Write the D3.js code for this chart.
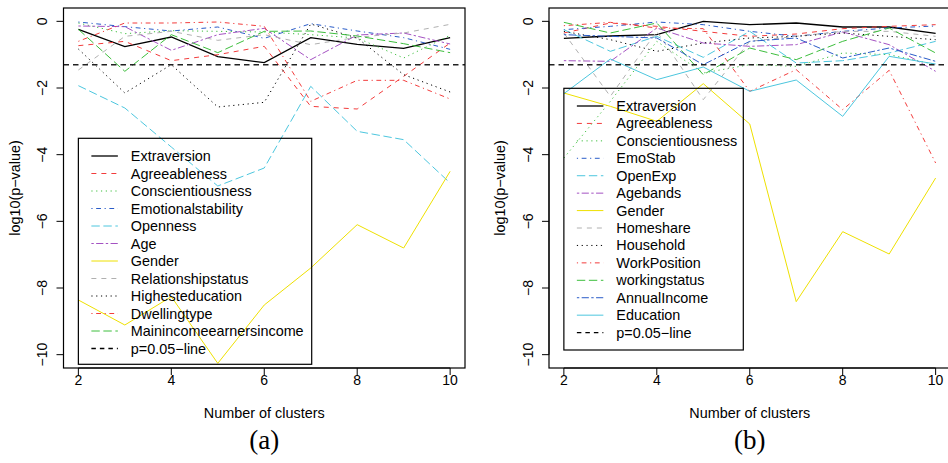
<!DOCTYPE html>
<html>
<head>
<meta charset="utf-8">
<script src="https://cdn.jsdelivr.net/npm/d3@7"></script>
<style>
  body { margin: 0; background: #fff; }
  svg text { font-family: "Liberation Sans", Arial, sans-serif; }
</style>
</head>
<body>
<div class="chart"></div>
<script>
// x values (number of clusters) and axis ticks
var clusters = [2, 3, 4, 5, 6, 7, 8, 9, 10];
var xTicks = [2, 4, 6, 8, 10];
var yTicks = [0, -2, -4, -6, -8, -10];
var pLine = Math.log10(0.05);

// panel (a) series, log10(p-value)
var aNames = ["Extraversion", "Agreeableness", "Conscientiousness", "Emotionalstability", "Openness", "Age",
              "Gender", "Relationshipstatus", "Highesteducation", "Dwellingtype", "Mainincomeearnersincome"];
var aExtraversion       = [-0.24, -0.76, -0.47, -1.06, -1.24, -0.49, -0.69, -0.81, -0.49];
var aAgreeableness      = [-0.73, -0.60, -1.18, -1.00, -0.75, -2.55, -2.63, -1.65, -0.65];
var aConscientiousness  = [-0.05, -0.37, -0.28, -0.30, -0.32, -0.40, -0.50, -1.10, -0.42];
var aEmotionalstability = [-0.02, -0.16, -0.29, -0.17, -0.51, -0.07, -0.29, -0.49, -0.84];
var aOpenness           = [-1.93, -2.60, -3.77, -4.94, -4.40, -1.95, -3.30, -3.55, -4.85];
var aAge                = [-0.14, -0.16, -0.87, -0.40, -0.21, -1.15, -0.41, -0.35, -0.68];
var aGender             = [-8.36, -9.11, -8.26, -10.26, -8.51, -7.40, -6.10, -6.80, -4.50];
var aRelationship       = [-1.46, -0.45, -0.30, -0.57, -0.40, -0.70, -0.48, -0.35, -0.09];
var aHighesteducation   = [-0.83, -2.15, -1.30, -2.57, -2.43, -0.08, -0.50, -1.60, -2.12];
var aDwellingtype       = [-0.60, -0.05, -0.05, -0.02, -0.15, -2.40, -1.77, -1.77, -2.33];
var aMainincome         = [-0.24, -1.50, -0.40, -0.94, -0.30, -0.29, -0.44, -0.67, -0.94];

// panel (b) series
var bNames = ["Extraversion", "Agreeableness", "Conscientiousness", "EmoStab", "OpenExp", "Agebands",
              "Gender", "Homeshare", "Household", "WorkPosition", "workingstatus", "AnnualIncome", "Education"];
var bExtraversion      = [-0.51, -0.44, -0.40, 0.00, -0.10, -0.05, -0.17, -0.17, -0.36];
var bAgreeableness     = [-0.35, -0.05, -0.15, -0.30, -0.45, -0.38, -0.22, -0.15, -0.10];
var bConscientiousness = [-4.10, -2.40, -0.60, -1.55, -1.30, -1.35, -0.95, -1.00, -1.30];
var bEmoStab           = [-0.25, -0.15, -0.02, -0.10, -0.30, -0.45, -0.30, -0.20, -0.14];
var bOpenExp           = [-0.25, -0.90, -0.45, -1.08, -0.30, -1.25, -1.18, -0.95, -0.60];
var bAgebands          = [-1.18, -1.20, -0.20, -0.65, -0.75, -0.70, -0.32, -0.70, -1.50];
var bGender            = [-2.15, -2.55, -3.00, -1.87, -3.08, -8.41, -6.31, -6.98, -4.70];
var bHomeshare         = [-0.35, -2.25, -0.30, -2.35, -0.60, -0.45, -0.30, -0.30, -0.45];
var bHousehold         = [-0.30, -0.55, -0.90, -0.65, -0.50, -0.45, -0.35, -0.45, -0.55];
var bWorkPosition      = [-0.13, -0.03, -0.20, -0.22, -2.10, -1.45, -2.65, -1.47, -4.25];
var bWorkingstatus     = [-0.03, -0.35, -0.05, -1.60, -0.80, -1.15, -0.60, -0.20, -0.95];
var bAnnualIncome      = [-0.40, -0.45, -0.50, -1.30, -0.60, -0.50, -1.10, -0.80, -1.20];
var bEducation         = [-2.17, -1.13, -1.75, -1.37, -2.10, -1.76, -2.85, -1.05, -1.28];

var aValues = [aExtraversion, aAgreeableness, aConscientiousness, aEmotionalstability, aOpenness, aAge,
               aGender, aRelationship, aHighesteducation, aDwellingtype, aMainincome];
var bValues = [bExtraversion, bAgreeableness, bConscientiousness, bEmoStab, bOpenExp, bAgebands,
               bGender, bHomeshare, bHousehold, bWorkPosition, bWorkingstatus, bAnnualIncome, bEducation];

// R style palette and line types (cycled like matplot)
var palette = ["#000000", "#F23C3C", "#3DBE3D", "#2A5CC8", "#4CC6DE", "#A452C2", "#EEE000", "#B0B0B0"];
var ltys = [null, "5,5", "1.2,3.6", "1.2,3.6,4.8,3.6", "8.4,3.6", "2.4,2.4,7.2,2.4"];

var W = 948, H = 463;
var svg = d3.select("div.chart").append("svg")
            .attr("width", W)
            .attr("height", H);

function drawPanel(offset, names, values, tag, legendTop, legendBottom, legendRight, legendStep) {
  var x = d3.scaleLinear().domain([1.68, 10.32]).range([63.5 + offset, 465 + offset]);
  var y = d3.scaleLinear().domain([-10.4, 0.4]).range([368, 8]);
  var fmt = d3.format("d");

  var clipId = "clip" + tag;
  svg.append("clipPath").attr("id", clipId)
     .append("rect")
       .attr("x", x.range()[0]).attr("y", 8)
       .attr("width", x.range()[1] - x.range()[0]).attr("height", 360);

  var plot = svg.append("g").attr("clip-path", "url(#" + clipId + ")");

  var line = d3.line()
    .x(function(d, i) { return x(clusters[i]); })
    .y(function(d) { return y(d); });

  values.forEach(function(vals, i) {
    plot.append("path")
        .attr("fill", "none")
        .attr("stroke", palette[i % 8])
        .attr("stroke-width", i == 0 ? 1.3 : 1)
        .attr("stroke-dasharray", ltys[i % 6])
        .attr("d", line(vals));
  });

  // p = 0.05 reference line
  plot.append("line")
      .attr("x1", x.range()[0]).attr("x2", x.range()[1])
      .attr("y1", y(pLine)).attr("y2", y(pLine))
      .attr("stroke", "#222")
      .attr("stroke-width", 1.6)
      .attr("stroke-dasharray", "5.5,4");

  // box
  svg.append("rect")
     .attr("x", x.range()[0]).attr("y", 8)
     .attr("width", x.range()[1] - x.range()[0]).attr("height", 360)
     .attr("fill", "none").attr("stroke", "#000").attr("stroke-width", 1.2);

  // x axis
  var xAxis = svg.append("g");
  xAxis.append("line")
       .attr("x1", x(xTicks[0])).attr("x2", x(xTicks[xTicks.length - 1]))
       .attr("y1", 368).attr("y2", 368)
       .attr("stroke", "#000").attr("stroke-width", 1.2);
  xTicks.forEach(function(t) {
    xAxis.append("line").attr("x1", x(t)).attr("x2", x(t)).attr("y1", 368).attr("y2", 375)
         .attr("stroke", "#000");
    xAxis.append("text").attr("x", x(t)).attr("y", 385)
         .attr("text-anchor", "middle").attr("font-size", 14).text(fmt(t));
  });

  // y axis
  var x0 = x.range()[0];
  var yAxis = svg.append("g");
  yAxis.append("line")
       .attr("x1", x0).attr("x2", x0)
       .attr("y1", y(yTicks[0])).attr("y2", y(yTicks[yTicks.length - 1]))
       .attr("stroke", "#000");
  yTicks.forEach(function(t) {
    yAxis.append("line").attr("x1", x0 - 7).attr("x2", x0).attr("y1", y(t)).attr("y2", y(t))
         .attr("stroke", "#000");
    yAxis.append("text")
         .attr("transform", "translate(" + (x0 - 16.5) + "," + y(t) + ") rotate(-90)")
         .attr("text-anchor", "middle").attr("font-size", 14).text(fmt(t));
  });

  svg.append("text")
     .attr("transform", "translate(" + (x0 - 44) + ",188) rotate(-90)")
     .attr("text-anchor", "middle").attr("font-size", 14.4)
     .text("log10(p\u2212value)");

  svg.append("text")
     .attr("x", (x.range()[0] + x.range()[1]) / 2).attr("y", 418)
     .attr("text-anchor", "middle").attr("font-size", 14.4)
     .text("Number of clusters");

  svg.append("text")
     .attr("x", (x.range()[0] + x.range()[1]) / 2).attr("y", 449)
     .attr("text-anchor", "middle").attr("font-size", 27)
     .style("font-family", "'Liberation Serif', 'DejaVu Serif', serif")
     .text("(" + tag + ")");

  // legend
  var lx = x(2);
  var leg = svg.append("g");
  leg.append("rect")
     .attr("x", lx).attr("y", legendTop)
     .attr("width", legendRight - lx).attr("height", legendBottom - legendTop)
     .attr("fill", "none").attr("stroke", "#000").attr("stroke-width", 1.2);

  var labels = names.concat(["p=0.05\u2212line"]);
  labels.forEach(function(name, i) {
    var cy = legendTop + 17.7 + i * legendStep;
    var isP = i == names.length;
    leg.append("line")
       .attr("x1", lx + 13).attr("x2", lx + 39.5)
       .attr("y1", cy).attr("y2", cy)
       .attr("stroke", isP ? "#000" : palette[i % 8])
       .attr("stroke-width", isP ? 1.3 : (i == 0 ? 1.3 : 1))
       .attr("stroke-dasharray", isP ? "4.5,4" : ltys[i % 6]);
    leg.append("text")
       .attr("x", lx + 52.5).attr("y", cy)
       .attr("dominant-baseline", "central")
       .attr("font-size", 14.4)
       .text(name);
  });
}

drawPanel(0, aNames, aValues, "a", 138.3, 364.3, 311.7, 17.5);
drawPanel(485.5, bNames, bValues, "b", 88.3, 350, 743.3, 17.43);
</script>
</body>
</html>
